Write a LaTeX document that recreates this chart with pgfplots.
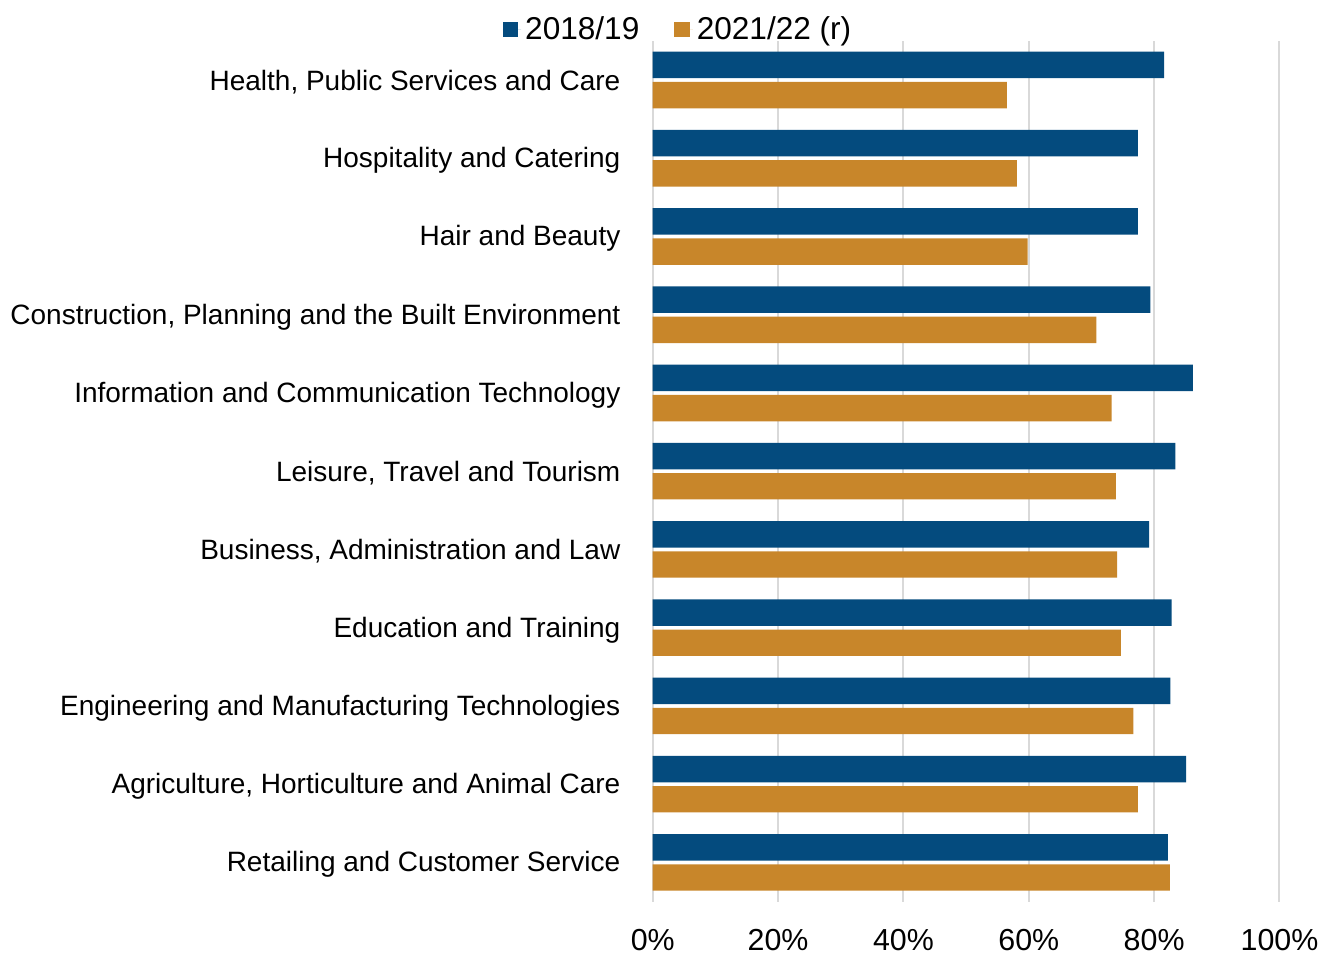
\documentclass[border=0pt]{standalone}
\usepackage{fontspec}
\setmainfont{Liberation Sans}
\usepackage{pgfplots}
\pgfplotsset{compat=1.18}
\definecolor{cblue}{RGB}{4,75,126}
\definecolor{corange}{RGB}{200,134,42}
\definecolor{gridc}{RGB}{217,217,217}
\begin{document}
\begin{tikzpicture}
\begin{axis}[
  scale only axis,
  width=313.5pt, height=430.5pt,
  xbar,
  xmin=0, xmax=100,
  ymin=-0.5, ymax=10.5,
  axis x line*=bottom,
  axis y line*=left,
  x axis line style={draw=none},
  y axis line style={draw=gridc, line width=1pt},
  xtick={0,20,...,100},
  xtick style={draw=none},
  xmajorgrids,
  major grid style={draw=gridc, line width=1pt},
  xticklabel={\pgfmathprintnumber{\tick}\%},
  /pgf/number format/assume math mode=true,
  xticklabel style={font=\fontsize{15.2}{17}\selectfont, yshift=-10.5pt},
  ytick={0,...,10},
  yticklabels={Retailing and Customer Service,
    {Agriculture, Horticulture and Animal Care},
    Engineering and Manufacturing Technologies,
    Education and Training,
    {Business, Administration and Law},
    {Leisure, Travel and Tourism},
    Information and Communication Technology,
    {Construction, Planning and the Built Environment},
    Hair and Beauty,
    Hospitality and Catering,
    {Health, Public Services and Care}},
  ytick style={draw=none},
  major tick length=0pt,
  yticklabel style={font=\fontsize{14}{16}\selectfont, anchor=east, inner sep=0pt, xshift=-16pt, yshift=-1pt},
  extra y ticks={-0.5,0.5,...,10.5},
  extra y tick labels={},
  extra y tick style={grid=none, major tick length=3pt, tick align=outside, tick style={draw=gridc, line width=1pt}},
  legend style={at={(rel axis cs:0.042,1.013)}, anchor=center, draw=none, fill=none,
    legend columns=2, font=\fontsize{15.8}{17}\selectfont,
    /tikz/every even column/.append style={column sep=15.5pt}},
  legend image code/.code={\fill[#1, draw=none] (0pt,-3.8pt) rectangle (7.6pt,3.8pt); \path (0pt,0pt) -- (9.2pt,0pt);},
]
\addplot[fill=cblue, draw=none, bar width=13.2pt, bar shift=7.6pt] coordinates {
(82.2,0) (85.1,1) (82.6,2) (82.8,3) (79.2,4) (83.4,5) (86.2,6) (79.4,7) (77.4,8) (77.4,9) (81.6,10)};
\addlegendentry{2018/19}
\addplot[fill=corange, draw=none, bar width=13.2pt, bar shift=-7.5pt] coordinates {
(82.5,0) (77.4,1) (76.7,2) (74.7,3) (74.1,4) (73.9,5) (73.2,6) (70.8,7) (59.8,8) (58.1,9) (56.5,10)};
\addlegendentry{2021/22 (r)}
\end{axis}
\path ([xshift=-326.5pt,yshift=-27pt]current axis.south west) rectangle ([xshift=22.5pt,yshift=20.5pt]current axis.north east);
\end{tikzpicture}
\end{document}
